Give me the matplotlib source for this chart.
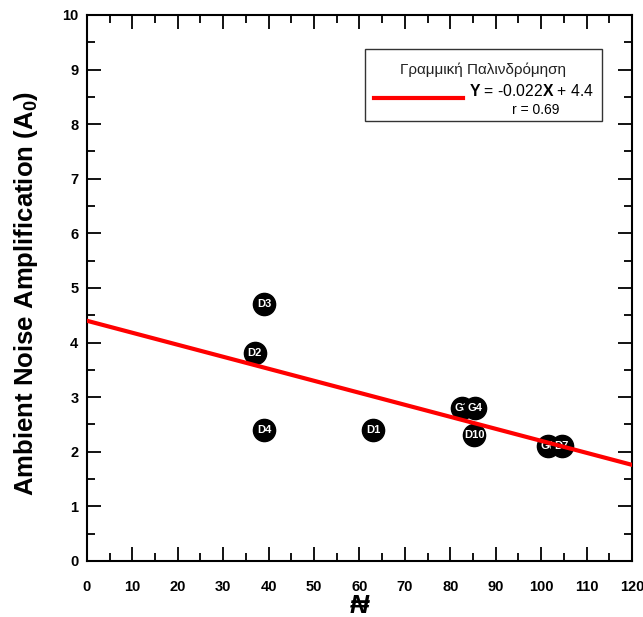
import matplotlib.pyplot as plt
from matplotlib.patches import Rectangle
from matplotlib.lines import Line2D
from matplotlib.ticker import MultipleLocator

plt.rcParams['font.family'] = ['Liberation Sans', 'DejaVu Sans']
plt.rcParams['mathtext.fontset'] = 'custom'
plt.rcParams['mathtext.rm'] = 'Liberation Sans'
plt.rcParams['mathtext.bf'] = 'Liberation Sans:bold'

# site labels and values
labels = ["D3", "D2", "D4", "D1", "G3", "G4", "D10", "G6", "D7"]
n_values = [39, 37, 39, 63, 82.5, 85.5, 85.3, 101.5, 104.5]
amplification = [4.7, 3.8, 2.4, 2.4, 2.8, 2.8, 2.3, 2.1, 2.1]

# linear regression
slope = -0.022
intercept = 4.4
r_value = 0.69
fit_x = [0, 120]
fit_y = [intercept + slope * x for x in fit_x]

fig = plt.figure(figsize=(6.43, 6.17), dpi=100)
ax = fig.add_axes([0.135, 0.0908, 0.848, 0.885])

for i, (lab, x, y) in enumerate(zip(labels, n_values, amplification)):
    ax.plot(x, y, "o", color="black", markersize=16, zorder=3 + 2 * i, clip_on=False)
    ax.text(x, y, lab, color="white", fontsize=8, fontweight="bold",
            ha="center", va="center", zorder=4 + 2 * i)

ax.plot(fit_x, fit_y, color="#ff0000", linewidth=3, zorder=50)

ax.set_xlim(0, 120)
ax.set_ylim(0, 10)
ax.xaxis.set_major_locator(MultipleLocator(10))
ax.xaxis.set_minor_locator(MultipleLocator(5))
ax.yaxis.set_major_locator(MultipleLocator(1))
ax.yaxis.set_minor_locator(MultipleLocator(0.5))
ax.tick_params(which="both", direction="in", top=True, right=True, width=1.3, color="black")
ax.tick_params(which="major", length=10, labelsize=10.5, pad=6)
ax.tick_params(axis="x", which="major", pad=14)
ax.tick_params(which="minor", length=5.5)
for lbl in ax.get_xticklabels() + ax.get_yticklabels():
    lbl.set_fontweight("bold")
for sp in ax.spines.values():
    sp.set_linewidth(1.5)

ax.set_xlabel("\u20a6", fontsize=19, fontweight="bold", fontstyle="italic", labelpad=0)
ax.set_ylabel("Ambient Noise Amplification (A$_\\mathbf{0}$)", fontsize=18.5,
              fontweight="bold")
ax.yaxis.set_label_coords(-0.086, 0.49)

# legend box
ax.add_patch(Rectangle((0.51, 0.806), 0.435, 0.132, transform=ax.transAxes,
                       facecolor="white", edgecolor="#333333", linewidth=1.0, zorder=60))
ax.text(0.7275, 0.9, "Γραμμική Παλινδρόμηση", transform=ax.transAxes,
        ha="center", va="center", fontsize=11, color="#222222", zorder=61)
ax.add_line(Line2D([0.527, 0.69], [0.848, 0.848], transform=ax.transAxes,
                   color="#ff0000", linewidth=3, zorder=61))
ax.text(0.815, 0.86, "$\\mathbf{Y}$ = %.3f$\\mathbf{X}$ + %.1f" % (slope, intercept),
        transform=ax.transAxes, ha="center", va="center", fontsize=11.3, zorder=61)
ax.text(0.824, 0.826, "r = %.2f" % r_value, transform=ax.transAxes,
        ha="center", va="center", fontsize=10, zorder=61)

fig.savefig("out.png", dpi=100)
